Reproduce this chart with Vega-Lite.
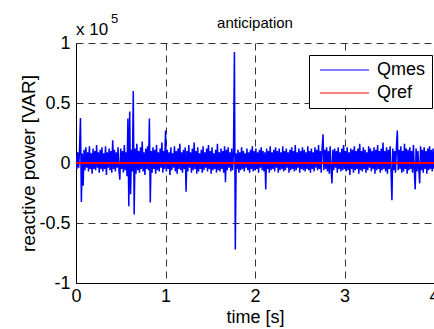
{
"$schema": "https://vega.github.io/schema/vega-lite/v6.json",
"width": 358, "height": 240,
"autosize": {"type": "none"},
"padding": {"left": 76, "top": 43, "right": 0, "bottom": 46},
"background": "white",
"config": {"view": {"stroke": null}, "font": "Liberation Sans"},
"layer": [
{"data": {"values": [
{"t":0.00,"q":0.06},{"t":0.01,"q":-0.05},{"t":0.02,"q":0.09},{"t":0.03,"q":-0.04},{"t":0.04,"q":0.12},{"t":0.05,"q":0.375},{"t":0.06,"q":-0.325},{"t":0.07,"q":0.08},{"t":0.08,"q":-0.19},{"t":0.09,"q":0.11},
{"t":0.10,"q":-0.06},{"t":0.11,"q":0.13},{"t":0.12,"q":-0.04},{"t":0.13,"q":0.09},{"t":0.14,"q":-0.07},{"t":0.15,"q":0.14},{"t":0.16,"q":-0.05},{"t":0.17,"q":0.08},{"t":0.18,"q":-0.09},{"t":0.19,"q":0.12},
{"t":0.20,"q":-0.05},{"t":0.21,"q":0.10},{"t":0.22,"q":-0.06},{"t":0.23,"q":0.15},{"t":0.24,"q":-0.04},{"t":0.25,"q":0.09},{"t":0.26,"q":-0.08},{"t":0.27,"q":0.11},{"t":0.28,"q":-0.05},{"t":0.29,"q":0.13},
{"t":0.30,"q":-0.07},{"t":0.31,"q":0.08},{"t":0.32,"q":-0.05},{"t":0.33,"q":0.14},{"t":0.34,"q":-0.10},{"t":0.35,"q":0.09},{"t":0.36,"q":-0.04},{"t":0.37,"q":0.12},{"t":0.38,"q":-0.06},{"t":0.39,"q":0.10},
{"t":0.40,"q":-0.08},{"t":0.41,"q":0.19},{"t":0.42,"q":-0.05},{"t":0.43,"q":0.11},{"t":0.44,"q":-0.07},{"t":0.45,"q":0.09},{"t":0.46,"q":-0.04},{"t":0.47,"q":0.13},{"t":0.48,"q":-0.06},{"t":0.49,"q":-0.14},
{"t":0.50,"q":0.12},{"t":0.51,"q":-0.05},{"t":0.52,"q":0.10},{"t":0.53,"q":-0.08},{"t":0.54,"q":0.15},{"t":0.55,"q":-0.06},{"t":0.56,"q":0.09},{"t":0.57,"q":-0.11},{"t":0.58,"q":0.37},{"t":0.59,"q":-0.36},
{"t":0.60,"q":0.43},{"t":0.61,"q":-0.26},{"t":0.62,"q":0.11},{"t":0.63,"q":-0.07},{"t":0.64,"q":0.60},{"t":0.65,"q":-0.43},{"t":0.66,"q":0.12},{"t":0.67,"q":-0.09},{"t":0.68,"q":0.16},{"t":0.69,"q":-0.06},
{"t":0.70,"q":0.10},{"t":0.71,"q":-0.08},{"t":0.72,"q":0.13},{"t":0.73,"q":-0.05},{"t":0.74,"q":0.18},{"t":0.75,"q":-0.07},{"t":0.76,"q":0.09},{"t":0.77,"q":-0.10},{"t":0.78,"q":0.12},{"t":0.79,"q":-0.05},
{"t":0.80,"q":0.14},{"t":0.81,"q":-0.06},{"t":0.82,"q":0.37},{"t":0.83,"q":-0.33},{"t":0.84,"q":0.10},{"t":0.85,"q":-0.08},{"t":0.86,"q":0.13},{"t":0.87,"q":-0.05},{"t":0.88,"q":0.11},{"t":0.89,"q":-0.09},
{"t":0.90,"q":0.15},{"t":0.91,"q":-0.06},{"t":0.92,"q":0.09},{"t":0.93,"q":-0.07},{"t":0.94,"q":0.12},{"t":0.95,"q":-0.04},{"t":0.96,"q":0.17},{"t":0.97,"q":-0.08},{"t":0.98,"q":0.10},{"t":0.99,"q":-0.05},
{"t":1.00,"q":0.27},{"t":1.01,"q":-0.07},{"t":1.02,"q":0.11},{"t":1.03,"q":-0.05},{"t":1.04,"q":0.09},{"t":1.05,"q":-0.10},{"t":1.06,"q":0.13},{"t":1.07,"q":-0.06},{"t":1.08,"q":0.08},{"t":1.09,"q":-0.04},
{"t":1.10,"q":0.14},{"t":1.11,"q":-0.07},{"t":1.12,"q":0.10},{"t":1.13,"q":-0.09},{"t":1.14,"q":0.12},{"t":1.15,"q":-0.05},{"t":1.16,"q":0.16},{"t":1.17,"q":-0.06},{"t":1.18,"q":0.09},{"t":1.19,"q":-0.08},
{"t":1.20,"q":0.11},{"t":1.21,"q":-0.05},{"t":1.22,"q":0.13},{"t":1.23,"q":-0.24},{"t":1.24,"q":0.10},{"t":1.25,"q":-0.07},{"t":1.26,"q":0.15},{"t":1.27,"q":-0.04},{"t":1.28,"q":0.09},{"t":1.29,"q":-0.08},
{"t":1.30,"q":0.12},{"t":1.31,"q":-0.06},{"t":1.32,"q":0.17},{"t":1.33,"q":-0.05},{"t":1.34,"q":0.10},{"t":1.35,"q":-0.09},{"t":1.36,"q":0.13},{"t":1.37,"q":-0.07},{"t":1.38,"q":0.08},{"t":1.39,"q":-0.05},
{"t":1.40,"q":0.11},{"t":1.41,"q":-0.08},{"t":1.42,"q":0.14},{"t":1.43,"q":-0.06},{"t":1.44,"q":0.09},{"t":1.45,"q":-0.04},{"t":1.46,"q":0.12},{"t":1.47,"q":-0.07},{"t":1.48,"q":0.15},{"t":1.49,"q":-0.05},
{"t":1.50,"q":0.10},{"t":1.51,"q":-0.09},{"t":1.52,"q":0.13},{"t":1.53,"q":-0.06},{"t":1.54,"q":0.08},{"t":1.55,"q":-0.05},{"t":1.56,"q":0.11},{"t":1.57,"q":-0.08},{"t":1.58,"q":0.16},{"t":1.59,"q":-0.06},
{"t":1.60,"q":0.09},{"t":1.61,"q":-0.07},{"t":1.62,"q":0.12},{"t":1.63,"q":-0.05},{"t":1.64,"q":0.10},{"t":1.65,"q":-0.08},{"t":1.66,"q":0.14},{"t":1.67,"q":-0.16},{"t":1.68,"q":0.11},{"t":1.69,"q":-0.06},
{"t":1.70,"q":0.13},{"t":1.71,"q":-0.04},{"t":1.72,"q":0.09},{"t":1.73,"q":-0.07},{"t":1.74,"q":0.12},{"t":1.75,"q":-0.06},{"t":1.76,"q":0.10},{"t":1.77,"q":0.925},{"t":1.78,"q":-0.72},{"t":1.79,"q":0.08},
{"t":1.80,"q":-0.05},{"t":1.81,"q":0.11},{"t":1.82,"q":-0.08},{"t":1.83,"q":0.09},{"t":1.84,"q":-0.06},{"t":1.85,"q":0.13},{"t":1.86,"q":-0.05},{"t":1.87,"q":0.10},{"t":1.88,"q":-0.07},{"t":1.89,"q":0.08},
{"t":1.90,"q":-0.04},{"t":1.91,"q":0.12},{"t":1.92,"q":-0.06},{"t":1.93,"q":0.09},{"t":1.94,"q":-0.08},{"t":1.95,"q":0.11},{"t":1.96,"q":-0.05},{"t":1.97,"q":0.14},{"t":1.98,"q":-0.07},{"t":1.99,"q":0.10},
{"t":2.00,"q":-0.06},{"t":2.01,"q":0.12},{"t":2.02,"q":-0.05},{"t":2.03,"q":0.09},{"t":2.04,"q":-0.08},{"t":2.05,"q":0.11},{"t":2.06,"q":-0.04},{"t":2.07,"q":0.13},{"t":2.08,"q":-0.06},{"t":2.09,"q":0.10},
{"t":2.10,"q":-0.07},{"t":2.11,"q":0.09},{"t":2.12,"q":-0.22},{"t":2.13,"q":0.12},{"t":2.14,"q":-0.05},{"t":2.15,"q":0.10},{"t":2.16,"q":-0.08},{"t":2.17,"q":0.14},{"t":2.18,"q":-0.06},{"t":2.19,"q":0.09},
{"t":2.20,"q":-0.05},{"t":2.21,"q":0.11},{"t":2.22,"q":-0.07},{"t":2.23,"q":0.13},{"t":2.24,"q":-0.04},{"t":2.25,"q":0.10},{"t":2.26,"q":-0.08},{"t":2.27,"q":0.12},{"t":2.28,"q":-0.06},{"t":2.29,"q":0.09},
{"t":2.30,"q":-0.05},{"t":2.31,"q":0.14},{"t":2.32,"q":-0.07},{"t":2.33,"q":0.10},{"t":2.34,"q":-0.06},{"t":2.35,"q":0.12},{"t":2.36,"q":-0.04},{"t":2.37,"q":0.09},{"t":2.38,"q":-0.08},{"t":2.39,"q":0.11},
{"t":2.40,"q":-0.06},{"t":2.41,"q":0.13},{"t":2.42,"q":-0.05},{"t":2.43,"q":0.10},{"t":2.44,"q":-0.07},{"t":2.45,"q":0.15},{"t":2.46,"q":-0.06},{"t":2.47,"q":0.09},{"t":2.48,"q":-0.04},{"t":2.49,"q":0.12},
{"t":2.50,"q":-0.08},{"t":2.51,"q":0.10},{"t":2.52,"q":-0.05},{"t":2.53,"q":0.13},{"t":2.54,"q":-0.06},{"t":2.55,"q":0.11},{"t":2.56,"q":-0.07},{"t":2.57,"q":0.09},{"t":2.58,"q":-0.05},{"t":2.59,"q":0.14},
{"t":2.60,"q":-0.06},{"t":2.61,"q":0.10},{"t":2.62,"q":-0.08},{"t":2.63,"q":0.12},{"t":2.64,"q":-0.05},{"t":2.65,"q":0.09},{"t":2.66,"q":-0.07},{"t":2.67,"q":0.13},{"t":2.68,"q":-0.04},{"t":2.69,"q":0.11},
{"t":2.70,"q":-0.06},{"t":2.71,"q":0.15},{"t":2.72,"q":-0.05},{"t":2.73,"q":0.10},{"t":2.74,"q":-0.08},{"t":2.75,"q":0.12},{"t":2.76,"q":0.24},{"t":2.77,"q":-0.06},{"t":2.78,"q":0.11},{"t":2.79,"q":-0.05},
{"t":2.80,"q":0.13},{"t":2.81,"q":-0.07},{"t":2.82,"q":0.10},{"t":2.83,"q":-0.09},{"t":2.84,"q":0.14},{"t":2.85,"q":-0.05},{"t":2.86,"q":-0.17},{"t":2.87,"q":0.11},{"t":2.88,"q":-0.06},{"t":2.89,"q":0.12},
{"t":2.90,"q":-0.04},{"t":2.91,"q":0.10},{"t":2.92,"q":-0.08},{"t":2.93,"q":0.13},{"t":2.94,"q":-0.05},{"t":2.95,"q":0.09},{"t":2.96,"q":-0.07},{"t":2.97,"q":0.12},{"t":2.98,"q":-0.06},{"t":2.99,"q":0.15},
{"t":3.00,"q":-0.05},{"t":3.01,"q":0.10},{"t":3.02,"q":-0.07},{"t":3.03,"q":0.13},{"t":3.04,"q":-0.06},{"t":3.05,"q":0.09},{"t":3.06,"q":-0.10},{"t":3.07,"q":0.12},{"t":3.08,"q":-0.05},{"t":3.09,"q":0.11},
{"t":3.10,"q":-0.08},{"t":3.11,"q":0.14},{"t":3.12,"q":-0.06},{"t":3.13,"q":0.10},{"t":3.14,"q":-0.05},{"t":3.15,"q":0.12},{"t":3.16,"q":-0.09},{"t":3.17,"q":0.16},{"t":3.18,"q":-0.06},{"t":3.19,"q":0.10},
{"t":3.20,"q":-0.07},{"t":3.21,"q":0.13},{"t":3.22,"q":-0.05},{"t":3.23,"q":0.11},{"t":3.24,"q":-0.08},{"t":3.25,"q":0.09},{"t":3.26,"q":-0.06},{"t":3.27,"q":0.14},{"t":3.28,"q":-0.04},{"t":3.29,"q":0.12},
{"t":3.30,"q":-0.07},{"t":3.31,"q":0.10},{"t":3.32,"q":-0.05},{"t":3.33,"q":0.13},{"t":3.34,"q":-0.09},{"t":3.35,"q":0.11},{"t":3.36,"q":-0.06},{"t":3.37,"q":0.15},{"t":3.38,"q":-0.05},{"t":3.39,"q":0.10},
{"t":3.40,"q":-0.08},{"t":3.41,"q":0.12},{"t":3.42,"q":-0.06},{"t":3.43,"q":0.17},{"t":3.44,"q":-0.05},{"t":3.45,"q":0.10},{"t":3.46,"q":-0.07},{"t":3.47,"q":0.13},{"t":3.48,"q":-0.09},{"t":3.49,"q":0.11},
{"t":3.50,"q":-0.05},{"t":3.51,"q":0.14},{"t":3.52,"q":-0.07},{"t":3.53,"q":-0.31},{"t":3.54,"q":0.12},{"t":3.55,"q":-0.06},{"t":3.56,"q":0.10},{"t":3.57,"q":-0.08},{"t":3.58,"q":0.13},{"t":3.59,"q":0.27},
{"t":3.60,"q":-0.06},{"t":3.61,"q":0.11},{"t":3.62,"q":-0.05},{"t":3.63,"q":0.14},{"t":3.64,"q":-0.08},{"t":3.65,"q":0.10},{"t":3.66,"q":-0.07},{"t":3.67,"q":0.16},{"t":3.68,"q":-0.05},{"t":3.69,"q":0.12},
{"t":3.70,"q":-0.09},{"t":3.71,"q":0.11},{"t":3.72,"q":-0.06},{"t":3.73,"q":0.13},{"t":3.74,"q":-0.05},{"t":3.75,"q":0.10},{"t":3.76,"q":-0.08},{"t":3.77,"q":0.15},{"t":3.78,"q":-0.06},{"t":3.79,"q":-0.22},
{"t":3.80,"q":0.12},{"t":3.81,"q":-0.07},{"t":3.82,"q":0.10},{"t":3.83,"q":-0.05},{"t":3.84,"q":-0.17},{"t":3.85,"q":0.14},{"t":3.86,"q":-0.06},{"t":3.87,"q":0.11},{"t":3.88,"q":-0.08},{"t":3.89,"q":0.13},
{"t":3.90,"q":-0.05},{"t":3.91,"q":0.10},{"t":3.92,"q":-0.09},{"t":3.93,"q":0.12},{"t":3.94,"q":-0.06},{"t":3.95,"q":0.14},{"t":3.96,"q":-0.05},{"t":3.97,"q":0.11},{"t":3.98,"q":-0.07},{"t":3.99,"q":0.12},
{"t":4.00,"q":-0.05}
]},
 "mark": {"type": "line", "strokeWidth": 1.5, "clip": true},
 "encoding": {
  "x": {"field": "t", "type": "quantitative", "scale": {"domain": [0, 4], "nice": false},
        "axis": {"title": "time [s]", "values": [0, 1, 2, 3, 4], "labelExpr": "datum.value + ''", "labelFlush": false, "grid": true, "gridDash": [7, 5], "gridColor": "#333333", "domainColor": "black", "ticks": false, "labelFontSize": 18, "labelPadding": 4, "labelColor": "black", "titleFontSize": 18, "titleFontWeight": "normal", "titleColor": "black", "titlePadding": 3}},
  "y": {"field": "q", "type": "quantitative", "scale": {"domain": [-1, 1], "nice": false},
        "axis": {"title": "reactive power [VAR]", "values": [-1, -0.5, 0, 0.5, 1], "labelExpr": "datum.value + ''", "grid": true, "gridDash": [7, 5], "gridColor": "#333333", "domainColor": "black", "ticks": false, "labelFontSize": 18, "labelPadding": 6, "labelColor": "black", "titleFontSize": 19, "titleFontWeight": "normal", "titleColor": "black", "titlePadding": 0}},
  "color": {"datum": "Qmes", "type": "nominal", "scale": {"domain": ["Qmes", "Qref"], "range": ["#0000ff", "#ff0000"]},
            "legend": {"title": null, "orient": "none", "legendX": 233, "legendY": 12, "strokeColor": "black", "fillColor": "white", "padding": 6, "symbolType": "M-3.5,0H3.5", "symbolSize": 196, "symbolStrokeWidth": 1, "symbolOffset": 20.5, "labelOffset": 23.5, "labelFontSize": 18, "labelColor": "black", "rowPadding": 5}}
 }},
{"data": {"values": [{"t": 0, "q": 0}, {"t": 4, "q": 0}]},
 "mark": {"type": "line", "strokeWidth": 2},
 "encoding": {"x": {"field": "t", "type": "quantitative"}, "y": {"field": "q", "type": "quantitative"}, "color": {"datum": "Qref", "type": "nominal"}}},
{"data": {"values": [{"label": "anticipation", "t": 2, "q": 1}]},
 "mark": {"type": "text", "align": "center", "baseline": "alphabetic", "dy": -15, "fontSize": 15, "color": "black"},
 "encoding": {"x": {"field": "t", "type": "quantitative"}, "y": {"field": "q", "type": "quantitative"}, "text": {"field": "label"}}},
{"data": {"values": [{"label": "x 10", "t": 0, "q": 1}]},
 "mark": {"type": "text", "align": "left", "baseline": "alphabetic", "dy": -8, "fontSize": 17, "color": "black"},
 "encoding": {"x": {"field": "t", "type": "quantitative"}, "y": {"field": "q", "type": "quantitative"}, "text": {"field": "label"}}},
{"data": {"values": [{"label": "5", "t": 0, "q": 1}]},
 "mark": {"type": "text", "align": "left", "baseline": "alphabetic", "dx": 35, "dy": -20, "fontSize": 13, "color": "black"},
 "encoding": {"x": {"field": "t", "type": "quantitative"}, "y": {"field": "q", "type": "quantitative"}, "text": {"field": "label"}}}
]
}
